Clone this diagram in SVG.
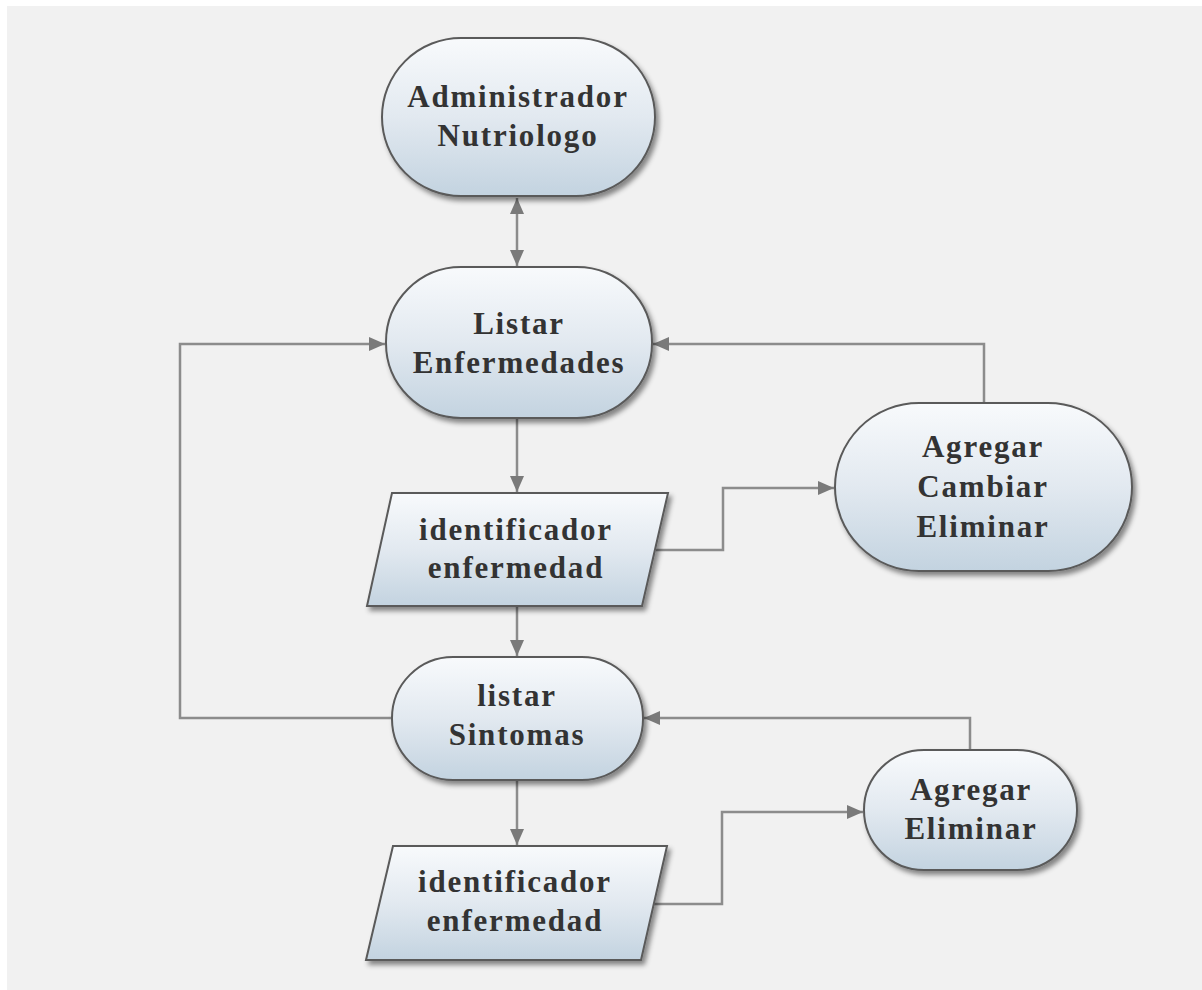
<svg xmlns="http://www.w3.org/2000/svg" width="1202" height="990" viewBox="0 0 1202 990">
<defs>
<linearGradient id="g" x1="0" y1="0" x2="0" y2="1">
<stop offset="0" stop-color="#f8fafc"/>
<stop offset="0.5" stop-color="#e2e9f0"/>
<stop offset="1" stop-color="#c3d3e0"/>
</linearGradient>
<filter id="sh" x="-10%" y="-10%" width="125%" height="130%">
<feDropShadow dx="3" dy="4" stdDeviation="2.5" flood-color="#000" flood-opacity="0.45"/>
</filter>
<marker id="ah" viewBox="0 0 16 14" refX="16" refY="7" markerWidth="16" markerHeight="14" markerUnits="userSpaceOnUse" orient="auto-start-reverse">
<path d="M0,0 L16,7 L0,14 Z" fill="#7a7a7a"/>
</marker>
<style>
.n{fill:url(#g);stroke:#5a5a5a;stroke-width:2;filter:url(#sh)}
.t{font-family:"Liberation Serif","Times New Roman",serif;font-weight:bold;font-size:31px;fill:#333;text-anchor:middle;letter-spacing:1.8px}
.c{fill:none;stroke:#8c8c8c;stroke-width:2.5}
.a{marker-end:url(#ah)}
</style>
</defs>
<rect x="0" y="0" width="1202" height="990" fill="#ffffff"/>
<rect x="7" y="6" width="1195" height="984" fill="#f1f1f1"/>

<g id="connectors">
<path class="c" d="M517,198 L517,266" marker-start="url(#ah)" marker-end="url(#ah)"/>
<path class="c a" d="M517,419 L517,492"/>
<path class="c a" d="M656,550 L723,550 L723,488 L834,488"/>
<path class="c a" d="M984,403 L984,344 L653,344"/>
<path class="c a" d="M517,607 L517,656"/>
<path class="c a" d="M392,718 L180,718 L180,344 L385,344"/>
<path class="c a" d="M517,781 L517,845"/>
<path class="c a" d="M654,904 L722,904 L722,812 L863,812"/>
<path class="c a" d="M970,750 L970,718 L644,718"/>
</g>

<g id="admin">
<rect class="n" x="382" y="38" width="273" height="158" rx="79" ry="79"/>
<text class="t" x="518" y="107">Administrador</text>
<text class="t" x="518" y="146">Nutriologo</text>
</g>

<g id="listar-enfermedades">
<rect class="n" x="386" y="267" width="266" height="151" rx="75" ry="75"/>
<text class="t" x="519" y="334">Listar</text>
<text class="t" x="519" y="373">Enfermedades</text>
</g>

<g id="identificador1">
<polygon class="n" points="392,493 668,493 642,606 367,606"/>
<text class="t" x="516" y="540">identificador</text>
<text class="t" x="516" y="578">enfermedad</text>
</g>

<g id="agregar-cambiar-eliminar">
<rect class="n" x="835" y="403" width="297" height="168" rx="84" ry="84"/>
<text class="t" x="983" y="457">Agregar</text>
<text class="t" x="983" y="497">Cambiar</text>
<text class="t" x="983" y="537">Eliminar</text>
</g>

<g id="listar-sintomas">
<rect class="n" x="392" y="657" width="251" height="123" rx="61" ry="61"/>
<text class="t" x="517" y="706">listar</text>
<text class="t" x="517" y="745">Sintomas</text>
</g>

<g id="identificador2">
<polygon class="n" points="393,846 667,846 641,960 366,960"/>
<text class="t" x="515" y="892">identificador</text>
<text class="t" x="515" y="931">enfermedad</text>
</g>

<g id="agregar-eliminar">
<rect class="n" x="864" y="750" width="213" height="120" rx="60" ry="60"/>
<text class="t" x="971" y="800">Agregar</text>
<text class="t" x="971" y="839">Eliminar</text>
</g>
</svg>
